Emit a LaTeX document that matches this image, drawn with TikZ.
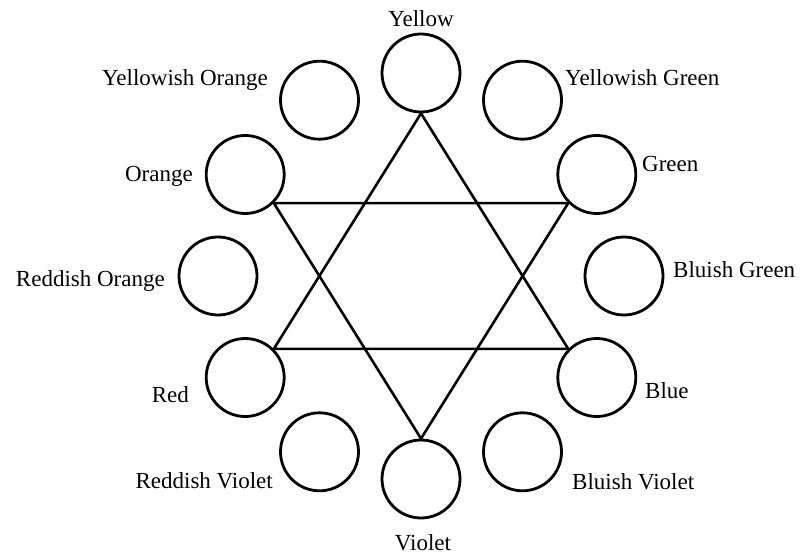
\documentclass[tikz,border=0pt]{standalone}
\usepackage{fontspec}
\setmainfont{Liberation Serif}
\usetikzlibrary{positioning}

\begin{document}
\begin{tikzpicture}[
	x=1pt, y=1pt,
	hue/.style={draw, circle, line width=2.8pt, minimum size=78pt, inner sep=0pt},
	star/.style={line width=2.6pt, line join=miter},
	lab/.style={font=\fontsize{23}{23}\selectfont, inner sep=0pt}
]
\useasboundingbox (0,0) rectangle (802,557);
\coordinate (ctr) at (421,281);

% ring of twelve hues
\foreach \ang/\nm in {90/yel, 60/ygr, 30/grn, 0/bgr, -30/blu, -60/bvi, -90/vio,
	-120/rvi, -150/red, 180/ror, 150/ora, 120/yor}
	\node[hue] (\nm) at ([shift={(\ang:203)}]ctr) {};

% the two triangles
\draw[star] (yel.south) -- (red.north east) -- (blu.north west) -- cycle;
\draw[star] (ora.south east) -- (grn.south west) -- (vio.north) -- cycle;

% names
\node[lab, anchor=base] (yelLab) at (421,530) {Yellow};
\node[lab, anchor=base east] (yorLab) at (268,471) {Yellowish Orange};
\node[lab, anchor=base west] (ygrLab) at (565,471) {Yellowish Green};
\node[lab, anchor=base east] (oraLab) at (193,375) {Orange};
\node[lab, anchor=base west] (grnLab) at (642,385) {Green};
\node[lab, anchor=base east] (rorLab) at (165,270) {Reddish Orange};
\node[lab, anchor=base west] (bgrLab) at (673,279) {Bluish Green};
\node[lab, anchor=base east] (redLab) at (189,155) {Red};
\node[lab, anchor=base west] (bluLab) at (645,159) {Blue};
\node[lab, anchor=base east] (rviLab) at (273,69) {Reddish Violet};
\node[lab, anchor=base west] (bviLab) at (572,68) {Bluish Violet};
\node[lab, anchor=base] (vioLab) at (423,7) {Violet};

\end{tikzpicture}
\end{document}
